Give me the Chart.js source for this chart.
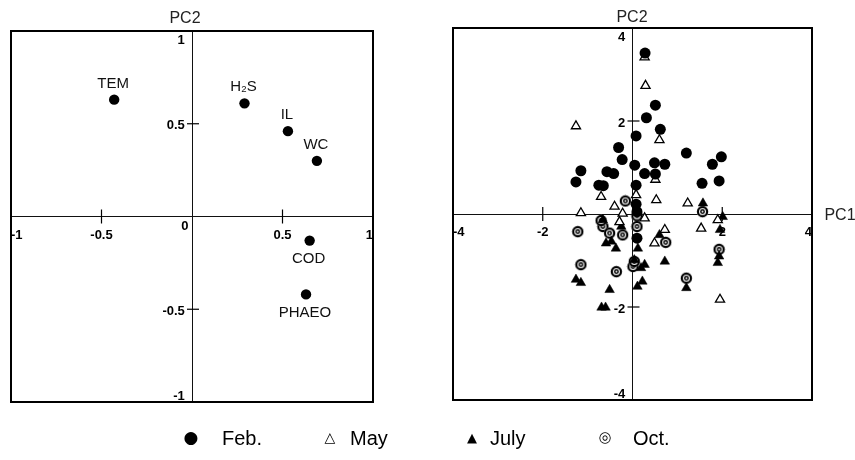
<!DOCTYPE html>
<html>
<head>
<meta charset="utf-8">
<script src="https://cdn.jsdelivr.net/npm/chart.js@4.4.1/dist/chart.umd.min.js"></script>
<style>
  html, body { margin:0; padding:0; background:#fff; }
  #wrap { position:relative; width:855px; height:460px; overflow:hidden; font-family:"Liberation Sans", Arial, sans-serif; color:#111; }
  canvas { position:absolute; top:0; }
  .ax { position:absolute; font-size:16px; color:#222; transform:translate(-50%,-50%); white-space:nowrap; }
  .lg { position:absolute; font-size:20px; color:#000; transform:translateY(-50%); white-space:nowrap; }
  .sym { position:absolute; transform:translate(-50%,-50%); font-family:"DejaVu Sans", sans-serif; color:#000; }
</style>
</head>
<body>
<div id="wrap">
  <canvas id="left" width="430" height="440" style="left:0px"></canvas>
  <canvas id="right" width="425" height="440" style="left:430px"></canvas>
  <div class="ax" style="left:185px; top:18px;">PC2</div>
  <div class="ax" style="left:632px; top:17px;">PC2</div>
  <div class="ax" style="left:840px; top:215px;">PC1</div>
  <div id="legend"></div>
</div>
<script>
// ---------- data: left panel (variable loadings) ----------
const leftNames = ['TEM', 'H\u2082S', 'IL', 'WC', 'COD', 'PHAEO'];
const leftPC1   = [-0.43, 0.29, 0.53, 0.69, 0.65, 0.63];
const leftPC2   = [ 0.63, 0.61, 0.46, 0.30, -0.13, -0.42];
const leftLabelSide = ['top', 'top', 'top', 'top', 'bottom', 'bottom'];
const leftXTicks = [-1, -0.5, 0.5, 1];
const leftYTicks = [-1, -0.5, 0, 0.5, 1];
const leftMarks  = [-0.5, 0.5];

// ---------- data: right panel (sample scores) ----------
const seriesNames = ['Feb.', 'May', 'July', 'Oct.'];
const febPC1 = [0.28,0.51,0.31,0.62,0.08,-0.31,-0.23,1.20,1.98,1.78,0.49,0.72,0.05,0.27,0.51,-1.15,-1.26,-0.57,-0.42,-0.75,-0.65,0.08,1.55,1.93,0.08,0.10,0.10];
const febPC2 = [3.46,2.34,2.07,1.82,1.68,1.43,1.17,1.31,1.23,1.07,1.10,1.07,1.05,0.87,0.86,0.93,0.69,0.91,0.87,0.62,0.61,0.62,0.66,0.71,0.21,0.05,-0.52];
const mayPC1 = [0.27,0.29,-1.26,0.60,0.51,-0.70,0.53,1.23,0.08,-0.40,-0.22,-1.15,0.27,-0.29,0.72,0.49,1.53,1.90,1.95];
const mayPC2 = [3.37,2.76,1.89,1.59,0.74,0.37,0.30,0.23,0.41,0.16,0.01,0.02,-0.09,-0.17,-0.34,-0.63,-0.31,-0.13,-1.84];
const julPC1 = [1.57,2.01,1.95,0.60,-0.59,-0.37,0.12,0.04,0.72,0.27,0.22,0.11,-1.26,-1.15,-0.51,-0.69,-0.60,1.20,1.90,1.93,-0.66,-0.25,-0.47,0.19];
const julPC2 = [0.23,-0.06,-0.34,-0.45,-0.63,-0.74,-0.74,-0.99,-1.02,-1.09,-1.45,-1.56,-1.41,-1.48,-1.63,-2.01,-2.01,-1.59,-1.05,-0.91,-0.13,-0.27,-0.59,-1.16];
const octPC1 = [1.56,-1.22,-0.22,0.74,-0.66,-0.51,0.10,0.01,-1.15,-0.36,1.20,1.93,0.10,-0.16,-0.70,0.04];
const octPC2 = [0.05,-0.38,-0.45,-0.61,-0.27,-0.41,-0.04,-1.13,-1.09,-1.24,-1.38,-0.76,-0.27,0.28,-0.14,-1.02];
const rightXTicks = [-4, -2, 2, 4];
const rightYTicks = [-4, -2, 2, 4];
const rightMarks  = [-2, 2];

const zip = (xs, ys) => xs.map((x, i) => ({ x: x, y: ys[i] }));
const FONT = '"Liberation Sans", Arial, sans-serif';

function octSymbol() {
  const c = document.createElement('canvas');
  c.width = 13; c.height = 13;
  const g = c.getContext('2d');
  g.fillStyle = '#fff';
  g.beginPath(); g.arc(6.5, 6.5, 5.8, 0, 2 * Math.PI); g.fill();
  g.strokeStyle = '#000';
  g.lineWidth = 2.2;
  g.beginPath(); g.arc(6.5, 6.5, 4.6, 0, 2 * Math.PI); g.stroke();
  g.lineWidth = 1.5;
  g.beginPath(); g.arc(6.5, 6.5, 1.7, 0, 2 * Math.PI); g.stroke();
  return c;
}

// y tick label: pad away from the centred axis; push the end labels inward
function yLabel(v, lim) {
  if (v === 0) return ['', '0 '];
  if (v === lim) return ['', String(v) + '  '];
  if (v === -lim) return [String(v) + '  ', ''];
  return String(v) + '  ';
}

function makeScales(lim, xTicks, yTicks) {
  const tickFont = { family: FONT, size: 13, weight: 'bold' };
  return {
    x: {
      type: 'linear', min: -lim, max: lim,
      position: { y: 0 },
      afterFit: s => { s.height = 0; },
      afterBuildTicks: s => { s.ticks = xTicks.map(v => ({ value: v })); },
      grid: { display: true, drawOnChartArea: false, drawTicks: false },
      border: { display: true, color: '#111', width: 1 },
      ticks: { font: tickFont, color: '#000', padding: 11, align: 'inner', maxRotation: 0,
               callback: v => String(v) }
    },
    y: {
      type: 'linear', min: -lim, max: lim,
      position: { x: 0 },
      afterFit: s => { s.width = 0; },
      afterBuildTicks: s => { s.ticks = yTicks.map(v => ({ value: v })); },
      grid: { display: true, drawOnChartArea: false, drawTicks: false },
      border: { display: true, color: '#111', width: 1 },
      ticks: { font: tickFont, color: '#000', padding: 8, labelOffset: 2,
               callback: v => yLabel(v, lim) }
    }
  };
}

const framePlugin = {
  id: 'frame',
  afterDraw(chart, args, opts) {
    const { ctx, chartArea: a, scales } = chart;
    ctx.save();
    ctx.strokeStyle = '#000';
    ctx.lineWidth = 2;
    ctx.strokeRect(a.left, a.top, a.right - a.left, a.bottom - a.top);
    // crossing tick marks on the centred axes
    ctx.lineWidth = 1.2;
    const y0 = scales.y.getPixelForValue(0);
    const x0 = scales.x.getPixelForValue(0);
    (opts.marks || []).forEach(v => {
      const px = scales.x.getPixelForValue(v);
      ctx.beginPath(); ctx.moveTo(px, y0 - 7); ctx.lineTo(px, y0 + 7); ctx.stroke();
      const py = scales.y.getPixelForValue(v);
      ctx.beginPath(); ctx.moveTo(x0 - 5, py); ctx.lineTo(x0 + 7, py); ctx.stroke();
    });
    ctx.restore();
  }
};

const pointLabelPlugin = {
  id: 'pointLabels',
  afterDatasetsDraw(chart, args, opts) {
    if (!opts.names) return;
    const { ctx } = chart;
    const meta = chart.getDatasetMeta(0);
    ctx.save();
    ctx.font = '15px ' + FONT;
    ctx.fillStyle = '#111';
    ctx.textAlign = 'center';
    ctx.textBaseline = 'middle';
    meta.data.forEach((pt, i) => {
      const dy = opts.side[i] === 'top' ? -16 : 18;
      ctx.fillText(opts.names[i], pt.x - 1, pt.y + dy);
    });
    ctx.restore();
  }
};

Chart.register(framePlugin, pointLabelPlugin);

const common = {
  responsive: false,
  animation: false,
  events: [],
};

new Chart(document.getElementById('left'), {
  type: 'scatter',
  data: {
    datasets: [{
      label: 'variables',
      data: zip(leftPC1, leftPC2),
      pointStyle: 'circle', pointRadius: 5.2,
      backgroundColor: '#000', borderColor: '#000', borderWidth: 0
    }]
  },
  options: Object.assign({}, common, {
    layout: { padding: { left: 8, right: 57, top: 31, bottom: 38 } },
    scales: makeScales(1, leftXTicks, leftYTicks),
    plugins: {
      legend: { display: false }, tooltip: { enabled: false },
      frame: { marks: leftMarks },
      pointLabels: { names: leftNames, side: leftLabelSide }
    }
  })
});

const octImg = octSymbol();
new Chart(document.getElementById('right'), {
  type: 'scatter',
  data: {
    datasets: [
      { label: seriesNames[0], data: zip(febPC1, febPC2), pointStyle: 'circle', pointRadius: 5.5,
        backgroundColor: '#000', borderColor: '#000', borderWidth: 0 },
      { label: seriesNames[1], data: zip(mayPC1, mayPC2), pointStyle: 'triangle', pointRadius: 5.3,
        backgroundColor: '#fff', borderColor: '#000', borderWidth: 1.3 },
      { label: seriesNames[2], data: zip(julPC1, julPC2), pointStyle: 'triangle', pointRadius: 5.5,
        backgroundColor: '#000', borderColor: '#000', borderWidth: 0.5 },
      { label: seriesNames[3], data: zip(octPC1, octPC2), pointStyle: octImg, pointRadius: 6 }
    ]
  },
  options: Object.assign({}, common, {
    layout: { padding: { left: 23, right: 43, top: 28, bottom: 40 } },
    scales: makeScales(4, rightXTicks, rightYTicks),
    plugins: {
      legend: { display: false }, tooltip: { enabled: false },
      frame: { marks: rightMarks },
      pointLabels: {}
    }
  })
});

// ---------- HTML legend built from the series names ----------
const legendSymbols = ['\u25CF', '\u25B3', '\u25B2', '\u25CE'];
const legendSymbolSize = [17, 14, 13, 15];
const legendSymX = [191, 330, 472, 605];
const legendTextX = [222, 350, 490, 633];
const lg = document.getElementById('legend');
seriesNames.forEach((name, i) => {
  const s = document.createElement('div');
  s.className = 'sym';
  s.style.left = legendSymX[i] + 'px';
  s.style.top = '437px';
  s.style.fontSize = legendSymbolSize[i] + 'px';
  s.textContent = legendSymbols[i];
  lg.appendChild(s);
  const t = document.createElement('div');
  t.className = 'lg';
  t.style.left = legendTextX[i] + 'px';
  t.style.top = '438px';
  t.textContent = name;
  lg.appendChild(t);
});
</script>
</body>
</html>
